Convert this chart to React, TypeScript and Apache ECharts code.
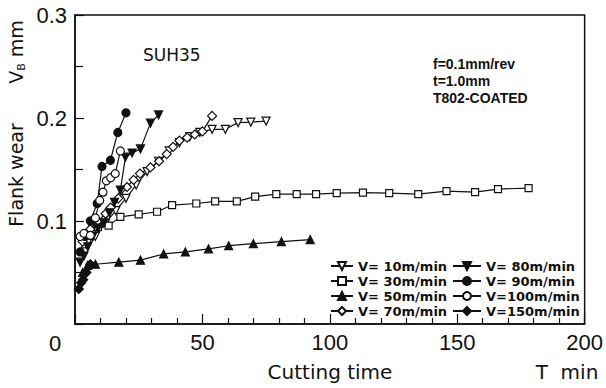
import React, { useEffect, useRef } from "react";
import * as echarts from "echarts";

// Cutting time T (min), flank wear VB (mm)
const v10: number[][] = [[4, 0.07], [8, 0.085], [12, 0.098], [16, 0.11], [20, 0.122], [24, 0.135], [28.3, 0.148], [32.8, 0.158], [37, 0.168], [41, 0.176], [45, 0.182], [49, 0.186], [53.8, 0.189], [59, 0.189], [64, 0.1955], [69, 0.196], [75, 0.197]];
const v30: number[][] = [[5, 0.088], [9, 0.094], [13.2, 0.0955], [17.8, 0.104], [25, 0.1065], [32.2, 0.109], [38.1, 0.1155], [47.6, 0.117], [55, 0.119], [63.5, 0.119], [70.7, 0.1236], [79, 0.126], [87, 0.126], [94.6, 0.126], [102.7, 0.127], [113, 0.1275], [123.3, 0.127], [134.7, 0.126], [145.8, 0.129], [157, 0.128], [166, 0.131], [178, 0.132]];
const v50: number[][] = [[3, 0.05], [5, 0.057], [8, 0.058], [17.2, 0.06], [25.7, 0.062], [34.8, 0.068], [43.3, 0.07], [52.4, 0.073], [60.3, 0.076], [70, 0.078], [81, 0.08], [92.3, 0.082]];
const v70: number[][] = [[3, 0.08], [6, 0.092], [9, 0.1], [12, 0.107], [14, 0.113], [17, 0.122], [20.4, 0.133], [23, 0.14], [25.5, 0.146], [29.6, 0.152], [33, 0.158], [36, 0.165], [38.5, 0.172], [41, 0.178], [44, 0.181], [47, 0.184], [50, 0.187], [53.8, 0.202]];
const v80: number[][] = [[2, 0.06], [3.5, 0.066], [5, 0.075], [7, 0.085], [9, 0.093], [11.3, 0.098], [13.5, 0.108], [15.5, 0.118], [17.8, 0.13], [19.8, 0.162], [22.4, 0.166], [25.7, 0.17], [29.6, 0.195], [32.8, 0.203]];
const v90: number[][] = [[2, 0.07], [4, 0.085], [6, 0.1], [8.7, 0.117], [10.6, 0.153], [13.9, 0.159], [16.8, 0.186], [20, 0.205]];
const v100: number[][] = [[2, 0.085], [3.5, 0.088], [6, 0.086], [8, 0.103], [9.7, 0.12], [11, 0.128], [12.3, 0.139], [14, 0.142], [15.8, 0.146], [17.8, 0.168]];
const v150: number[][] = [[1.5, 0.034], [2.4, 0.04], [3.2, 0.043], [4.5, 0.05], [6, 0.058]];

const names = ["V= 10m/min", "V= 30m/min", "V= 50m/min", "V= 70m/min", "V= 80m/min", "V= 90m/min", "V=100m/min", "V=150m/min"];
const xTicks = [0, 50, 100, 150, 200];
const yTicks = [0, 0.1, 0.2, 0.3];

const INK = "#111";

function mk(name: string, data: number[][], symbol: string, filled: boolean, rotate = 0, size = 8) {
  return {
    name,
    type: "line",
    data,
    symbol,
    symbolSize: size,
    symbolRotate: rotate,
    showAllSymbol: true,
    lineStyle: { color: INK, width: 1.2 },
    itemStyle: { color: filled ? INK : "#fff", borderColor: INK, borderWidth: 1.2 },
    z: 3,
  };
}

export default function App() {
  const ref = useRef<HTMLDivElement>(null);
  useEffect(() => {
    if (!ref.current) return;
    const chart = echarts.init(ref.current, undefined, { renderer: "svg" });
    const legendText = { fontFamily: "DejaVu Sans", fontWeight: "bold", fontSize: 13, color: INK, lineHeight: 14 };
    chart.setOption({
      animation: false,
      backgroundColor: "#fff",
      grid: { left: 75, right: 20, top: 15, bottom: 64, show: true, borderColor: INK, borderWidth: 1.5, backgroundColor: "transparent" },
      xAxis: {
        type: "value",
        min: xTicks[0],
        max: xTicks[xTicks.length - 1],
        interval: 50,
        axisLine: { show: true, lineStyle: { color: INK, width: 1.5 } },
        axisTick: { show: true, inside: true, length: 10, lineStyle: { color: INK, width: 1.2 } },
        minorTick: { show: true, splitNumber: 5, length: 6, lineStyle: { color: INK, width: 1.2 } },
        splitLine: { show: false },
        axisLabel: {
          margin: 7,
          fontFamily: "Liberation Sans",
          fontSize: 22,
          color: INK,
          formatter: (v: number) => (v === 0 ? "" : String(v)),
        },
      },
      yAxis: {
        type: "value",
        min: yTicks[0],
        max: yTicks[yTicks.length - 1],
        interval: 0.1,
        axisLine: { show: true, lineStyle: { color: INK, width: 1.5 } },
        axisTick: { show: true, inside: true, length: 9, lineStyle: { color: INK, width: 1.2 } },
        minorTick: { show: true, splitNumber: 2, length: 8, lineStyle: { color: INK, width: 1.2 } },
        splitLine: { show: false },
        axisLabel: {
          margin: 8,
          fontFamily: "Liberation Sans",
          fontSize: 22,
          color: INK,
          formatter: (v: number) => (v === 0 ? "" : v.toFixed(1)),
        },
      },
      legend: [
        {
          data: names.slice(0, 4),
          orient: "vertical",
          left: 330,
          top: 259,
          itemWidth: 22,
          itemHeight: 10,
          itemGap: 1,
          padding: 0,
          textStyle: legendText,
          selectedMode: false,
        },
        {
          data: names.slice(4),
          orient: "vertical",
          left: 452,
          top: 259,
          itemWidth: 28,
          itemHeight: 10,
          itemGap: 1,
          padding: 0,
          textStyle: legendText,
          selectedMode: false,
        },
      ],
      graphic: [
        { type: "text", left: 143, top: 46, style: { text: "SUH35", font: "17px 'DejaVu Sans'", fill: INK } },
        { type: "text", left: 433, top: 57, style: { text: "f=0.1mm/rev", font: "bold 14px 'Liberation Sans'", fill: INK } },
        { type: "text", left: 433, top: 74, style: { text: "t=1.0mm", font: "bold 14px 'Liberation Sans'", fill: INK } },
        { type: "text", left: 433, top: 91, style: { text: "T802-COATED", font: "bold 14px 'Liberation Sans'", fill: INK } },
        { type: "text", x: 55, y: 343, style: { text: "0", font: "22px 'Liberation Sans'", fill: INK, align: "center", verticalAlign: "middle" } },
        { type: "text", x: 330, y: 372, style: { text: "Cutting time", font: "20px 'DejaVu Sans'", fill: INK, align: "center", verticalAlign: "middle" } },
        { type: "text", x: 567, y: 372, style: { text: "T  min", font: "20px 'DejaVu Sans'", fill: INK, align: "center", verticalAlign: "middle" } },
        { type: "text", x: 16, y: 175, rotation: Math.PI / 2, style: { text: "Flank wear", font: "19px 'DejaVu Sans'", fill: INK, align: "center", verticalAlign: "middle" } },
        {
          type: "text",
          x: 16,
          y: 52,
          rotation: Math.PI / 2,
          style: {
            text: "{v|V}{b|B}{m| mm}",
            align: "center",
            verticalAlign: "middle",
            rich: {
              v: { fontFamily: "DejaVu Sans", fontSize: 19, fill: INK, lineHeight: 22, verticalAlign: "middle" },
              b: { fontFamily: "DejaVu Sans", fontSize: 11, fill: INK, lineHeight: 22, verticalAlign: "bottom" },
              m: { fontFamily: "DejaVu Sans", fontSize: 19, fill: INK, lineHeight: 22, verticalAlign: "middle" },
            },
          },
        },
      ],
      series: [
        mk(names[0], v10, "triangle", false, 180, 8),
        mk(names[1], v30, "rect", false, 0, 7),
        mk(names[2], v50, "triangle", true, 0, 8),
        mk(names[3], v70, "diamond", false, 0, 9),
        mk(names[4], v80, "triangle", true, 180, 8),
        mk(names[5], v90, "circle", true, 0, 8),
        mk(names[6], v100, "circle", false, 0, 8),
        mk(names[7], v150, "diamond", true, 0, 9),
      ],
    });
    return () => chart.dispose();
  }, []);
  return <div ref={ref} style={{ width: 606, height: 388, position: "fixed", left: 0, top: 0 }} />;
}
